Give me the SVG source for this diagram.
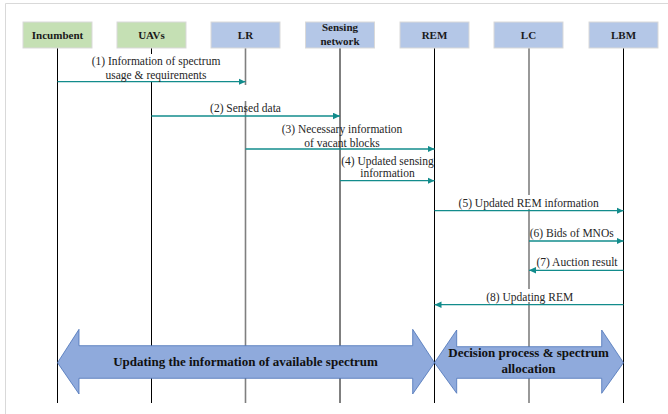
<svg xmlns="http://www.w3.org/2000/svg" width="668" height="414" viewBox="0 0 668 414">
<defs>
<style>
.box-g{fill:#c5e0b4;stroke:#d9d9d9;stroke-width:1}
.box-b{fill:#b4c7e7;stroke:#d9d9d9;stroke-width:1}
.nl{font-family:"Liberation Serif","Times New Roman",serif;font-size:11px;font-weight:bold;fill:#1a1a1a;text-anchor:middle}
.life{stroke:#000;stroke-width:1;fill:none}
.life-g{stroke:#7f7f7f;stroke-width:1.6;fill:none}
.msg{stroke:#128c8c;stroke-width:1.3;fill:none;marker-end:url(#ah)}
.ml{font-family:"Liberation Serif","Times New Roman",serif;font-size:11.5px;fill:#262626;text-anchor:middle}
.big{fill:#8faadc;stroke:#4a72b8;stroke-width:0.8}
.bl{font-family:"Liberation Serif","Times New Roman",serif;font-size:13px;font-weight:bold;fill:#111;text-anchor:middle}
.gap{fill:#fff}
</style>
<marker id="ah" markerUnits="userSpaceOnUse" markerWidth="8" markerHeight="7" refX="7" refY="3.3" orient="auto">
<path d="M0,0 L7,3.3 L0,6.6 z" fill="#128c8c"/>
</marker>
</defs>
<rect width="668" height="414" fill="#fff"/>
<path d="M5.5,414 V3.5 H668" fill="none" stroke="#d9d9d9" stroke-width="1"/>

<g id="lifelines">
<line class="life" x1="57.5" y1="48" x2="57.5" y2="403"/>
<line class="life" x1="151.5" y1="48" x2="151.5" y2="403"/>
<line class="life-g" x1="245.5" y1="48" x2="245.5" y2="403"/>
<line class="life" x1="340" y1="48" x2="340" y2="403"/>
<line class="life" x1="434.5" y1="48" x2="434.5" y2="403"/>
<line class="life-g" x1="529" y1="48" x2="529" y2="403"/>
<line class="life" x1="623.5" y1="48" x2="623.5" y2="403"/>
</g>

<g id="label-gaps">
<rect class="gap" x="145" y="54" width="13" height="27"/>
<rect class="gap" x="239" y="85" width="13" height="16"/>
<rect class="gap" x="522" y="195" width="14" height="14"/>
<rect class="gap" x="522" y="289" width="14" height="13"/>
</g>

<g id="node-incumbent"><rect class="box-g" x="23" y="22" width="69" height="26"/><text class="nl" x="57.5" y="38.5">Incumbent</text></g>
<g id="node-uavs"><rect class="box-g" x="117" y="22" width="69" height="26"/><text class="nl" x="151.5" y="38.5">UAVs</text></g>
<g id="node-lr"><rect class="box-b" x="211" y="22" width="69" height="26"/><text class="nl" x="245.5" y="38.5">LR</text></g>
<g id="node-sensing"><rect class="box-b" x="305.5" y="22" width="69" height="26"/><text class="nl" x="340" y="31">Sensing</text><text class="nl" x="340" y="44.5">network</text></g>
<g id="node-rem"><rect class="box-b" x="400" y="22" width="69" height="26"/><text class="nl" x="434.5" y="38.5">REM</text></g>
<g id="node-lc"><rect class="box-b" x="494" y="22" width="69" height="26"/><text class="nl" x="528.5" y="38.5">LC</text></g>
<g id="node-lbm"><rect class="box-b" x="589" y="22" width="69" height="26"/><text class="nl" x="623.5" y="38.5">LBM</text></g>

<g id="connectors">
<line class="msg" x1="57.5" y1="81.7" x2="245.5" y2="81.7"/>
<line class="msg" x1="151.5" y1="116" x2="340" y2="116"/>
<line class="msg" x1="245.5" y1="149" x2="434.5" y2="149"/>
<line class="msg" x1="340" y1="180.7" x2="434.5" y2="180.7"/>
<line class="msg" x1="434.5" y1="210.7" x2="623.5" y2="210.7"/>
<line class="msg" x1="529" y1="241" x2="623.5" y2="241"/>
<line class="msg" x1="623.5" y1="270.3" x2="529" y2="270.3"/>
<line class="msg" x1="623.5" y1="304.7" x2="434.5" y2="304.7"/>
</g>

<g id="message-labels">
<text class="ml" x="156" y="65.3">(1) Information of spectrum</text>
<text class="ml" x="156" y="78.7">usage &amp; requirements</text>
<text class="ml" x="245.5" y="111.7">(2) Sensed data</text>
<text class="ml" x="342" y="132.7">(3) Necessary information</text>
<text class="ml" x="342" y="146.5">of vacant blocks</text>
<text class="ml" x="387.5" y="165">(4) Updated sensing</text>
<text class="ml" x="387.5" y="177.3">information</text>
<text class="ml" x="528.7" y="206.7">(5) Updated REM information</text>
<text class="ml" x="571.7" y="236.7">(6) Bids of MNOs</text>
<text class="ml" x="577" y="266">(7) Auction result</text>
<text class="ml" x="529.7" y="300.7">(8) Updating REM</text>
</g>

<g id="phase-update">
<polygon class="big" points="57.5,362.7 79,329.3 79,345.7 412.7,345.7 412.7,329.3 434.5,362.7 412.7,394 412.7,378.3 79,378.3 79,394"/>
<text class="bl" x="245.5" y="365.7">Updating the information of available spectrum</text>
</g>
<g id="phase-decision">
<polygon class="big" points="434.5,362.7 456.7,330 456.7,346.7 601.7,346.7 601.7,330 623.5,362.7 601.7,393.3 601.7,378.3 456.7,378.3 456.7,393.3"/>
<text class="bl" x="528.5" y="357.3">Decision process &amp; spectrum</text>
<text class="bl" x="528.5" y="373.3">allocation</text>
</g>
</svg>
